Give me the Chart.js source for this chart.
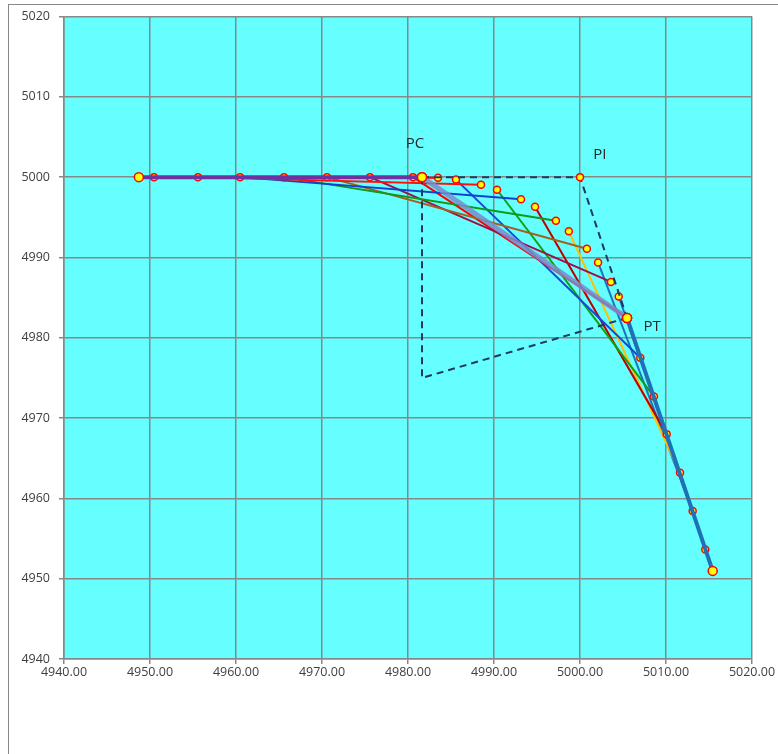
<!DOCTYPE html>
<html>
<head>
<meta charset="utf-8">
<script src="https://cdn.jsdelivr.net/npm/chart.js@4.4.0/dist/chart.umd.min.js"></script>
<style>
  body { margin: 0; background: #fff; }
  #frame { position: absolute; left: 8px; top: 4px; width: 900px; height: 900px; border: 1.5px solid #888; box-sizing: border-box; }
  #curve { position: absolute; left: 0; top: 0; }
</style>
</head>
<body>
<div id="frame"></div>
<canvas id="curve" width="778" height="754"></canvas>
<script>
// stations along the alignment: back tangent, circular curve, forward tangent
const tangentInX = [4948.70, 4950.47, 4955.58, 4960.47, 4965.58, 4970.58, 4975.58, 4980.58];
const tangentInY = [5000, 5000, 5000, 5000, 5000, 5000, 5000, 5000];
const curveX = [4981.63, 4983.49, 4985.58, 4988.49, 4990.35, 4993.14, 4994.77, 4997.20, 4998.70, 5000.80, 5002.10, 5003.60, 5004.50, 5005.47];
const curveY = [5000.00, 4999.93, 4999.69, 4999.04, 4998.43, 4997.25, 4996.30, 4994.56, 4993.25, 4991.08, 4989.38, 4986.95, 4985.15, 4982.47];
const tangentOutX = [5007.01, 5008.60, 5010.08, 5011.63, 5013.10, 5014.57, 5015.43];
const tangentOutY = [4977.50, 4972.67, 4968.00, 4963.19, 4958.42, 4953.63, 4950.97];

const piPoint = [5000, 5000];
const centerPoint = [4981.63, 4975];

// sight lines: index of observer station -> index of target station
const sightFrom = [1, 2, 3, 4, 5, 6, 7, 10, 12, 14, 16, 18, 20];
const sightTo   = [9, 11, 13, 15, 17, 19, 21, 22, 23, 24, 25, 26, 27];
const sightColors = ['#ff0000', '#ff1010', '#1340d0', '#10981a', '#a3601c', '#a01048', '#ff0000',
                     '#1848d8', '#10a010', '#c00000', '#ffc000', '#1c74bc', '#1c74bc'];

const stationX = tangentInX.concat(curveX, tangentOutX);
const stationY = tangentInY.concat(curveY, tangentOutY);
const pt = i => ({x: stationX[i], y: stationY[i]});

const PC = 8, PT = 21, LAST = stationX.length - 1;

const datasets = [];

// sight lines
sightFrom.forEach((f, k) => {
  datasets.push({
    data: [pt(f), pt(sightTo[k])],
    showLine: true,
    borderColor: sightColors[k],
    borderWidth: 2,
    pointRadius: 3.5,
    pointBorderWidth: 1.5,
    pointBackgroundColor: '#ffff00',
    pointBorderColor: '#ff0000',
    order: 10 + k
  });
});

// back tangent (thick purple)
datasets.push({
  data: [pt(0), pt(PC)],
  showLine: true, borderColor: '#7030a0', borderWidth: 4,
  pointRadius: 4.5, pointBorderWidth: 1.5,
  pointBackgroundColor: '#ffff00', pointBorderColor: '#ff0000',
  order: 3
});
// long chord
datasets.push({
  data: [pt(PC), pt(PT)],
  showLine: true, borderColor: 'rgba(120,140,205,0.85)', borderWidth: 5,
  pointRadius: 4.5, pointBorderWidth: 1.5,
  pointBackgroundColor: '#ffff00', pointBorderColor: '#ff0000',
  order: 2
});
// forward tangent
datasets.push({
  data: [pt(PT), pt(LAST)],
  showLine: true, borderColor: '#1f70b5', borderWidth: 4,
  pointRadius: 4.5, pointBorderWidth: 1.5,
  pointBackgroundColor: '#ffff00', pointBorderColor: '#ff0000',
  order: 2
});
// PC - PI - PT dashed
datasets.push({
  data: [pt(PC), {x: piPoint[0], y: piPoint[1]}, pt(PT)],
  showLine: true, borderColor: '#1f3864', borderWidth: 2, borderDash: [7, 5],
  pointRadius: [0, 3.5, 0], pointBorderWidth: 1.5,
  pointBackgroundColor: '#ffff00', pointBorderColor: '#ff0000',
  order: 1
});
// PC - centre - PT dashed
datasets.push({
  data: [pt(PC), {x: centerPoint[0], y: centerPoint[1]}, pt(PT)],
  showLine: true, borderColor: '#1f3864', borderWidth: 2, borderDash: [7, 5],
  pointRadius: 0,
  order: 1
});
// big markers on top
datasets.push({
  data: [pt(PC), pt(PT)],
  showLine: false,
  pointRadius: 4.5, pointBorderWidth: 1.5,
  pointBackgroundColor: '#ffff00', pointBorderColor: '#ff0000',
  order: 0
});

const labels = [
  {text: 'PC', x: 4980.8, y: 5004.2},
  {text: 'PI', x: 5002.3, y: 5002.8},
  {text: 'PT', x: 5008.4, y: 4981.4}
];

const plotBack = {
  id: 'plotBack',
  beforeDraw(chart) {
    const {ctx, chartArea: a} = chart;
    ctx.save();
    ctx.fillStyle = '#66ffff';
    ctx.fillRect(a.left, a.top, a.right - a.left, a.bottom - a.top);
    ctx.restore();
  },
  afterDatasetsDraw(chart) {
    const {ctx, scales} = chart;
    ctx.save();
    ctx.fillStyle = '#262626';
    ctx.font = '15px "Open Sans"';
    ctx.textAlign = 'center';
    ctx.textBaseline = 'middle';
    labels.forEach(l => ctx.fillText(l.text, scales.x.getPixelForValue(l.x), scales.y.getPixelForValue(l.y)));
    ctx.restore();
  }
};

new Chart(document.getElementById('curve'), {
  type: 'scatter',
  data: {datasets: datasets},
  plugins: [plotBack],
  options: {
    responsive: false,
    animation: false,
    layout: {padding: {top: 15, right: 26, left: 0, bottom: 0}},
    plugins: {legend: {display: false}, tooltip: {enabled: false}},
    scales: {
      x: {
        min: 4940, max: 5020,
        afterFit: s => { s.height = 95; },
        ticks: {stepSize: 10, color: '#404040', font: {family: 'Open Sans', size: 12.5}, padding: 1,
                callback: v => v.toFixed(2), maxRotation: 0},
        grid: {color: '#888', lineWidth: 1.5, tickLength: 5},
        border: {color: '#888', width: 1.5}
      },
      y: {
        min: 4940, max: 5020,
        afterFit: s => { s.width = 64; },
        ticks: {stepSize: 10, color: '#404040', font: {family: 'Open Sans', size: 12.5}, padding: 9,
                callback: v => String(v)},
        grid: {color: '#888', lineWidth: 1.5, tickLength: 5},
        border: {color: '#888', width: 1.5}
      }
    }
  }
});
</script>
</body>
</html>
